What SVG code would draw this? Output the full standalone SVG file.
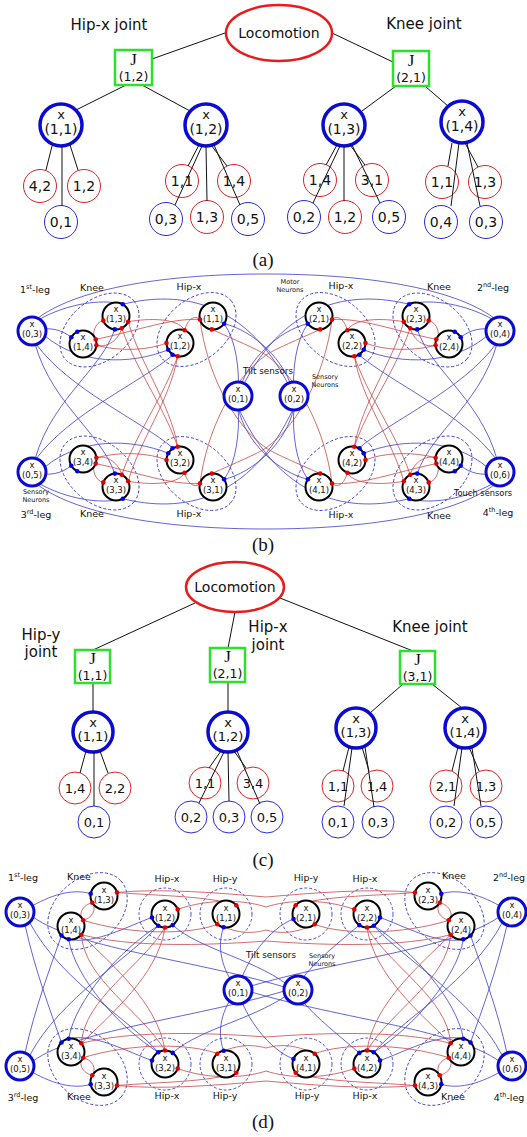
<svg xmlns="http://www.w3.org/2000/svg" width="527" height="1137" viewBox="0 0 527 1137">
<style>
text{font-family:"DejaVu Sans",sans-serif;fill:#111;text-anchor:middle}
.ser{font-family:"Liberation Serif","DejaVu Serif",serif}
.loco{fill:#fff;stroke:#e81c1c;stroke-width:2.5}
.jb{fill:#fff;stroke:#2de02d;stroke-width:2.5}
.bx{fill:#fff;stroke:#0a0ad0;stroke-width:3.5}
.sr{fill:#fff;stroke:#d82424;stroke-width:1}
.sb{fill:#fff;stroke:#2a2ad8;stroke-width:1}
.tl{stroke:#111;stroke-width:1;fill:none}
.sen{fill:#fff;stroke:#0a0ad0;stroke-width:3}
.neu{fill:#fff;stroke:#000;stroke-width:2}
.dsh{fill:none;stroke:#3a3ad0;stroke-width:0.9;stroke-dasharray:3 2}
.bl{fill:none;stroke:#3c3cc8;stroke-width:0.8}
.rd{fill:none;stroke:#c84848;stroke-width:0.8}
.rdt{fill:#e00000}
.bdt{fill:#0000ee}
.nl{font-size:8.5px}
.gl{font-size:9.5px}
.sm{font-size:6.5px}
.t14{font-size:14px}
.t13{font-size:13px}
.t12{font-size:12.5px}
.t15{font-size:15px}
.jj{font-size:17px}
.cap{font-size:19px}
</style>
<defs>
<g id="bq">
<path class="bl" d="M38,318 C80,287 170,274 266,274"/>
<path class="bl" d="M32,331 C50,326 62,330 71.3,337.3"/>
<path class="bl" d="M40,319 C65,305 100,298 122.8,304.3"/>
<path class="bl" d="M122.8,304.3 C180,290 250,300 294,396"/>
<path class="bl" d="M224.1,323.7 C236,340 240,370 238,396"/>
<path class="bl" d="M238,396 C245,360 280,330 307.9,323.7"/>
<path class="bl" d="M32,331 C45,400 100,430 114.8,473.6"/>
<path class="bl" d="M36,344 C70,390 140,420 173.25,448.3"/>
<path class="bl" d="M45,336 C80,365 130,365 168.3,349.75"/>
<path class="rd" d="M103.3,320.6 C95,322 91,335 95.7,339.4"/>
<path class="rd" d="M121.7,328.2 C118,342 105,348 96.4,345.2"/>
<path class="rd" d="M128.2,321.7 C150,318 178,318 184.6,330.3"/>
<path class="rd" d="M95.7,339.4 C140,330 170,318 200,319.5"/>
<path class="rd" d="M96.4,345.2 C120,352 150,350 166.5,343"/>
<path class="rd" d="M184.6,330.3 C188,318 195,315 200,319.5"/>
<path class="rd" d="M121.7,328.2 C140,380 175,420 184.6,472.7"/>
<path class="rd" d="M211.8,329.4 C235,340 255,348 266,355 C300,380 325,430 332,483.5"/>
<path class="rd" d="M177.7,356.3 C170,400 140,440 128.2,481.3"/>
</g>
<g id="dq">
<path class="bl" d="M32,906 C55,893 75,889 90.7,893.7"/>
<path class="bl" d="M25,925 C35,970 50,1010 61.5,1042.5"/>
<path class="bl" d="M30,923 C60,980 130,1020 158.25,1052.3"/>
<path class="bl" d="M68.7,939.3 C95,945 130,925 152,917.5"/>
<path class="bl" d="M158.25,925.7 C120,950 75,1000 68.7,1038.7"/>
<path class="bl" d="M33,917 C80,950 200,960 294,990"/>
<path class="rd" d="M92.3,902.75 C82,905 78,915 83.2,920.3"/>
<path class="rd" d="M92.3,902.75 C97,910 92,918 83.2,920.3"/>
<path class="rd" d="M117,892.5 C160,888 220,893 266,897"/>
<path class="rd" d="M81.3,934.7 C130,947 200,946 266,941"/>
<path class="rd" d="M177.7,909.4 C210,898 245,900 266,907"/>
<path class="rd" d="M117,892.5 C160,896 210,896 236.3,905.3"/>
<path class="rd" d="M83.2,920.3 C130,935 190,935 217.3,924.3"/>
<path class="rd" d="M217.3,924.3 C240,935 255,933 266,930"/>
<path class="rd" d="M165,927.5 C158,975 110,1015 81.3,1043.3"/>
<path class="rd" d="M81.3,934.7 C85,980 140,1010 165,1050.5"/>
</g>
</defs>

<!-- ===== (a) ===== -->
<g id="a-connectors">
<path class="tl" d="M225,33 L152,59 M332,33 L393,62 M126,85 L76,110 M142,85 L190,111 M396,86 L362,111 M426,87 L448,106"/>
</g>
<g id="a-loco"><ellipse class="loco" cx="279" cy="33" rx="53" ry="28"/><text x="279" y="38" class="t14">Locomotion</text></g>
<text x="109" y="30" class="t15">Hip-x joint</text>
<text x="424" y="29" class="t15">Knee joint</text>
<g id="a-J12"><rect class="jb" x="115" y="50" width="37" height="35"/><text x="133.5" y="65" class="ser jj">J</text><text x="133.5" y="81" class="t12">(1,2)</text></g>
<g id="a-J21"><rect class="jb" x="393" y="51" width="36" height="35"/><text x="411" y="66" class="ser jj">J</text><text x="411" y="82" class="t12">(2,1)</text></g>
<g id="a-x11"><circle class="bx" cx="61" cy="125" r="21"/><text x="61" y="119" class="t13">x</text><text x="61" y="134" class="t14">(1,1)</text></g>
<g id="a-x12"><circle class="bx" cx="206" cy="125" r="21"/><text x="206" y="119" class="t13">x</text><text x="206" y="134" class="t14">(1,2)</text></g>
<g id="a-x13"><circle class="bx" cx="344" cy="125" r="21"/><text x="344" y="119" class="t13">x</text><text x="344" y="134" class="t14">(1,3)</text></g>
<g id="a-x14"><circle class="bx" cx="462" cy="122" r="21"/><text x="462" y="116" class="t13">x</text><text x="462" y="131" class="t14">(1,4)</text></g>
<g id="a-c1"><circle class="sr" cx="40" cy="186" r="16.5"/><text x="40" y="191" class="t14">4,2</text></g>
<g id="a-c2"><circle class="sr" cx="84" cy="186" r="16.5"/><text x="84" y="191" class="t14">1,2</text></g>
<g id="a-c3"><circle class="sb" cx="61" cy="222" r="16.5"/><text x="61" y="227" class="t14">0,1</text></g>
<g id="a-c4"><circle class="sr" cx="182" cy="181" r="16.5"/><text x="182" y="186" class="t14">1,1</text></g>
<g id="a-c5"><circle class="sr" cx="234" cy="181" r="16.5"/><text x="234" y="186" class="t14">1,4</text></g>
<g id="a-c6"><circle class="sb" cx="166" cy="219" r="16.5"/><text x="166" y="224" class="t14">0,3</text></g>
<g id="a-c7"><circle class="sr" cx="207" cy="217" r="16.5"/><text x="207" y="222" class="t14">1,3</text></g>
<g id="a-c8"><circle class="sb" cx="248" cy="219" r="16.5"/><text x="248" y="224" class="t14">0,5</text></g>
<g id="a-c9"><circle class="sr" cx="320" cy="180" r="16.5"/><text x="320" y="185" class="t14">1,4</text></g>
<g id="a-c10"><circle class="sr" cx="372" cy="180" r="16.5"/><text x="372" y="185" class="t14">3,1</text></g>
<g id="a-c11"><circle class="sb" cx="304" cy="217" r="16.5"/><text x="304" y="222" class="t14">0,2</text></g>
<g id="a-c12"><circle class="sr" cx="345" cy="217" r="16.5"/><text x="345" y="222" class="t14">1,2</text></g>
<g id="a-c13"><circle class="sb" cx="389" cy="217" r="16.5"/><text x="389" y="222" class="t14">0,5</text></g>
<g id="a-c14"><circle class="sr" cx="442" cy="182" r="16.5"/><text x="442" y="187" class="t14">1,1</text></g>
<g id="a-c15"><circle class="sr" cx="485" cy="182" r="16.5"/><text x="485" y="187" class="t14">1,3</text></g>
<g id="a-c16"><circle class="sb" cx="441" cy="222" r="16.5"/><text x="441" y="227" class="t14">0,4</text></g>
<g id="a-c17"><circle class="sb" cx="486" cy="222" r="16.5"/><text x="486" y="227" class="t14">0,3</text></g>
<g id="a-leaf-connectors">
<path class="tl" d="M52,146 L46,170 M62,146 L62,206 M70,145 L78,170
M199,145 L188,166 M202,146 L175,205 M206,146 L207,201 M211,145 L227,166 M214,145 L240,205
M337,145 L326,165 M340,146 L313,203 M344,146 L344,201 M350,145 L365,165 M352,145 L380,203
M452,143 L448,166 M459,143 L451,206 M465,143 L478,167 M467,143 L480,206"/>
</g>
<text x="263" y="266" class="ser cap">(a)</text>

<!-- ===== (b) ===== -->
<g id="b-groups">
<ellipse class="dsh" cx="99.5" cy="330" rx="45" ry="30" transform="rotate(-40 99.5 330)"/>
<ellipse class="dsh" cx="196.5" cy="329.5" rx="45" ry="30" transform="rotate(-40 196.5 329.5)"/>
<ellipse class="dsh" cx="335.5" cy="329.5" rx="45" ry="30" transform="rotate(40 335.5 329.5)"/>
<ellipse class="dsh" cx="432.5" cy="330" rx="45" ry="30" transform="rotate(40 432.5 330)"/>
<ellipse class="dsh" cx="99.5" cy="473" rx="45" ry="30" transform="rotate(40 99.5 473)"/>
<ellipse class="dsh" cx="196.5" cy="473.5" rx="45" ry="30" transform="rotate(40 196.5 473.5)"/>
<ellipse class="dsh" cx="335.5" cy="473.5" rx="45" ry="30" transform="rotate(-40 335.5 473.5)"/>
<ellipse class="dsh" cx="432.5" cy="473" rx="45" ry="30" transform="rotate(-40 432.5 473)"/>
</g>
<g id="b-connectors">
<use href="#bq"/>
<use href="#bq" transform="matrix(-1 0 0 1 532 0)"/>
<use href="#bq" transform="matrix(1 0 0 -1 0 803)"/>
<use href="#bq" transform="matrix(-1 0 0 -1 532 803)"/>
</g>
<g id="b-S03"><circle class="sen" cx="32" cy="331" r="14"/><text x="32" y="327" class="nl">x</text><text x="32" y="337" class="nl">(0,3)</text></g>
<g id="b-S04"><circle class="sen" cx="500" cy="331" r="14"/><text x="500" y="327" class="nl">x</text><text x="500" y="337" class="nl">(0,4)</text></g>
<g id="b-S05"><circle class="sen" cx="32" cy="472" r="14"/><text x="32" y="468" class="nl">x</text><text x="32" y="478" class="nl">(0,5)</text></g>
<g id="b-S06"><circle class="sen" cx="500" cy="472" r="14"/><text x="500" y="468" class="nl">x</text><text x="500" y="478" class="nl">(0,6)</text></g>
<g id="b-S01"><circle class="sen" cx="238" cy="396" r="14"/><text x="238" y="392" class="nl">x</text><text x="238" y="402" class="nl">(0,1)</text></g>
<g id="b-S02"><circle class="sen" cx="294" cy="396" r="14"/><text x="294" y="392" class="nl">x</text><text x="294" y="402" class="nl">(0,2)</text></g>

<g id="b-N13"><circle class="neu" cx="116" cy="316" r="13.5"/><text x="116" y="312" class="nl">x</text><text x="116" y="322" class="nl">(1,3)</text>
<circle class="bdt" cx="122.8" cy="304.3" r="2.3"/><circle class="bdt" cx="114.8" cy="329.4" r="2.3"/><circle class="rdt" cx="103.3" cy="320.6" r="2.3"/><circle class="rdt" cx="121.7" cy="328.2" r="2.3"/><circle class="rdt" cx="128.2" cy="321.7" r="2.3"/></g>
<g id="b-N14"><circle class="neu" cx="83" cy="344" r="13.5"/><text x="83" y="340" class="nl">x</text><text x="83" y="350" class="nl">(1,4)</text>
<circle class="bdt" cx="71.3" cy="337.3" r="2.3"/><circle class="bdt" cx="77.3" cy="331.8" r="2.3"/><circle class="rdt" cx="95.7" cy="339.4" r="2.3"/><circle class="rdt" cx="96.4" cy="345.2" r="2.3"/></g>
<g id="b-N12"><circle class="neu" cx="180" cy="343" r="13.5"/><text x="180" y="339" class="nl">x</text><text x="180" y="349" class="nl">(1,2)</text>
<circle class="rdt" cx="166.5" cy="343" r="2.3"/><circle class="rdt" cx="184.6" cy="330.3" r="2.3"/><circle class="rdt" cx="177.7" cy="356.3" r="2.3"/><circle class="bdt" cx="168.3" cy="349.75" r="2.3"/><circle class="bdt" cx="172.5" cy="354.7" r="2.3"/></g>
<g id="b-N11"><circle class="neu" cx="213" cy="316" r="13.5"/><text x="213" y="312" class="nl">x</text><text x="213" y="322" class="nl">(1,1)</text>
<circle class="rdt" cx="200" cy="319.5" r="2.3"/><circle class="rdt" cx="211.8" cy="329.4" r="2.3"/><circle class="bdt" cx="224.1" cy="323.7" r="2.3"/></g>

<g id="b-N23"><circle class="neu" cx="416" cy="316" r="13.5"/><text x="416" y="312" class="nl">x</text><text x="416" y="322" class="nl">(2,3)</text>
<circle class="bdt" cx="409.2" cy="304.3" r="2.3"/><circle class="bdt" cx="417.2" cy="329.4" r="2.3"/><circle class="rdt" cx="428.7" cy="320.6" r="2.3"/><circle class="rdt" cx="410.3" cy="328.2" r="2.3"/><circle class="rdt" cx="403.8" cy="321.7" r="2.3"/></g>
<g id="b-N24"><circle class="neu" cx="449" cy="344" r="13.5"/><text x="449" y="340" class="nl">x</text><text x="449" y="350" class="nl">(2,4)</text>
<circle class="bdt" cx="460.7" cy="337.3" r="2.3"/><circle class="bdt" cx="454.7" cy="331.8" r="2.3"/><circle class="rdt" cx="436.3" cy="339.4" r="2.3"/><circle class="rdt" cx="435.6" cy="345.2" r="2.3"/></g>
<g id="b-N22"><circle class="neu" cx="352" cy="343" r="13.5"/><text x="352" y="339" class="nl">x</text><text x="352" y="349" class="nl">(2,2)</text>
<circle class="rdt" cx="365.5" cy="343" r="2.3"/><circle class="rdt" cx="347.4" cy="330.3" r="2.3"/><circle class="rdt" cx="354.3" cy="356.3" r="2.3"/><circle class="bdt" cx="363.7" cy="349.75" r="2.3"/><circle class="bdt" cx="359.5" cy="354.7" r="2.3"/></g>
<g id="b-N21"><circle class="neu" cx="319" cy="316" r="13.5"/><text x="319" y="312" class="nl">x</text><text x="319" y="322" class="nl">(2,1)</text>
<circle class="rdt" cx="332" cy="319.5" r="2.3"/><circle class="rdt" cx="320.2" cy="329.4" r="2.3"/><circle class="bdt" cx="307.9" cy="323.7" r="2.3"/></g>

<g id="b-N33"><circle class="neu" cx="116" cy="487" r="13.5"/><text x="116" y="483" class="nl">x</text><text x="116" y="493" class="nl">(3,3)</text>
<circle class="bdt" cx="122.8" cy="498.7" r="2.3"/><circle class="bdt" cx="114.8" cy="473.6" r="2.3"/><circle class="rdt" cx="103.3" cy="482.4" r="2.3"/><circle class="rdt" cx="121.7" cy="474.8" r="2.3"/><circle class="rdt" cx="128.2" cy="481.3" r="2.3"/></g>
<g id="b-N34"><circle class="neu" cx="83" cy="459" r="13.5"/><text x="83" y="455" class="nl">x</text><text x="83" y="465" class="nl">(3,4)</text>
<circle class="bdt" cx="71.3" cy="465.7" r="2.3"/><circle class="bdt" cx="77.3" cy="471.2" r="2.3"/><circle class="rdt" cx="95.7" cy="463.6" r="2.3"/><circle class="rdt" cx="96.4" cy="457.8" r="2.3"/></g>
<g id="b-N32"><circle class="neu" cx="180" cy="460" r="13.5"/><text x="180" y="456" class="nl">x</text><text x="180" y="466" class="nl">(3,2)</text>
<circle class="rdt" cx="166.5" cy="460" r="2.3"/><circle class="rdt" cx="184.6" cy="472.7" r="2.3"/><circle class="rdt" cx="177.7" cy="446.7" r="2.3"/><circle class="bdt" cx="168.3" cy="453.25" r="2.3"/><circle class="bdt" cx="172.5" cy="448.3" r="2.3"/></g>
<g id="b-N31"><circle class="neu" cx="213" cy="487" r="13.5"/><text x="213" y="483" class="nl">x</text><text x="213" y="493" class="nl">(3,1)</text>
<circle class="rdt" cx="200" cy="483.5" r="2.3"/><circle class="rdt" cx="211.8" cy="473.6" r="2.3"/><circle class="bdt" cx="224.1" cy="479.3" r="2.3"/></g>

<g id="b-N43"><circle class="neu" cx="416" cy="487" r="13.5"/><text x="416" y="483" class="nl">x</text><text x="416" y="493" class="nl">(4,3)</text>
<circle class="bdt" cx="409.2" cy="498.7" r="2.3"/><circle class="bdt" cx="417.2" cy="473.6" r="2.3"/><circle class="rdt" cx="428.7" cy="482.4" r="2.3"/><circle class="rdt" cx="410.3" cy="474.8" r="2.3"/><circle class="rdt" cx="403.8" cy="481.3" r="2.3"/></g>
<g id="b-N44"><circle class="neu" cx="449" cy="459" r="13.5"/><text x="449" y="455" class="nl">x</text><text x="449" y="465" class="nl">(4,4)</text>
<circle class="bdt" cx="460.7" cy="465.7" r="2.3"/><circle class="bdt" cx="454.7" cy="471.2" r="2.3"/><circle class="rdt" cx="436.3" cy="463.6" r="2.3"/><circle class="rdt" cx="435.6" cy="457.8" r="2.3"/></g>
<g id="b-N42"><circle class="neu" cx="352" cy="460" r="13.5"/><text x="352" y="456" class="nl">x</text><text x="352" y="466" class="nl">(4,2)</text>
<circle class="rdt" cx="365.5" cy="460" r="2.3"/><circle class="rdt" cx="347.4" cy="472.7" r="2.3"/><circle class="rdt" cx="354.3" cy="446.7" r="2.3"/><circle class="bdt" cx="363.7" cy="453.25" r="2.3"/><circle class="bdt" cx="359.5" cy="448.3" r="2.3"/></g>
<g id="b-N41"><circle class="neu" cx="319" cy="487" r="13.5"/><text x="319" y="483" class="nl">x</text><text x="319" y="493" class="nl">(4,1)</text>
<circle class="rdt" cx="332" cy="483.5" r="2.3"/><circle class="rdt" cx="320.2" cy="473.6" r="2.3"/><circle class="bdt" cx="307.9" cy="479.3" r="2.3"/></g>

<g id="b-labels">
<text x="35" y="293" class="gl">1<tspan font-size="6.5" dy="-4">st</tspan><tspan dy="4">-leg</tspan></text>
<text x="92" y="291" class="gl">Knee</text>
<text x="189" y="290" class="gl">Hip-x</text>
<text x="290" y="284" class="sm">Motor</text>
<text x="290" y="292" class="sm">Neurons</text>
<text x="341" y="289" class="gl">Hip-x</text>
<text x="439" y="290" class="gl">Knee</text>
<text x="493" y="291" class="gl">2<tspan font-size="6.5" dy="-4">nd</tspan><tspan dy="4">-leg</tspan></text>
<text x="268" y="374" font-size="8.8">Tilt sensors</text>
<text x="325" y="379" class="sm">Sensory</text>
<text x="325" y="387" class="sm">Neurons</text>
<text x="36" y="494" class="sm">Sensory</text>
<text x="36" y="502" class="sm">Neurons</text>
<text x="36" y="518" class="gl">3<tspan font-size="6.5" dy="-4">rd</tspan><tspan dy="4">-leg</tspan></text>
<text x="92" y="517" class="gl">Knee</text>
<text x="189" y="517" class="gl">Hip-x</text>
<text x="341" y="518" class="gl">Hip-x</text>
<text x="439" y="519" class="gl">Knee</text>
<text x="483" y="496" font-size="8.3">Touch sensors</text>
<text x="498" y="516" class="gl">4<tspan font-size="6.5" dy="-4">th</tspan><tspan dy="4">-leg</tspan></text>
</g>
<text x="263" y="551" class="ser cap">(b)</text>

<!-- ===== (c) ===== -->
<g id="c-connectors">
<path class="tl" d="M195,603 L93,650 M235,612 L228,648 M280,598 L413,651 M93,683 L93,712 M228,682 L228,712 M403,684 L370,713 M432,684 L462,708"/>
</g>
<g id="c-loco"><ellipse class="loco" cx="235" cy="587" rx="49" ry="25"/><text x="235" y="592" class="t14">Locomotion</text></g>
<text x="41" y="640" class="t15">Hip-y</text>
<text x="41" y="657" class="t15">joint</text>
<text x="268" y="632" class="t15">Hip-x</text>
<text x="268" y="650" class="t15">joint</text>
<text x="430" y="632" class="t15">Knee joint</text>
<g id="c-J11"><rect class="jb" x="75" y="650" width="35" height="33"/><text x="92.5" y="664" class="ser jj">J</text><text x="92.5" y="680" class="t12">(1,1)</text></g>
<g id="c-J21"><rect class="jb" x="210" y="648" width="35" height="34"/><text x="227.5" y="662" class="ser jj">J</text><text x="227.5" y="678" class="t12">(2,1)</text></g>
<g id="c-J31"><rect class="jb" x="400" y="651" width="35" height="33"/><text x="417.5" y="665" class="ser jj">J</text><text x="417.5" y="681" class="t12">(3,1)</text></g>
<g id="c-x11"><circle class="bx" cx="93" cy="732" r="20"/><text x="93" y="727" class="t13">x</text><text x="93" y="741" class="t13">(1,1)</text></g>
<g id="c-x12"><circle class="bx" cx="228" cy="732" r="20"/><text x="228" y="727" class="t13">x</text><text x="228" y="741" class="t13">(1,2)</text></g>
<g id="c-x13"><circle class="bx" cx="356" cy="728" r="20"/><text x="356" y="723" class="t13">x</text><text x="356" y="737" class="t13">(1,3)</text></g>
<g id="c-x14"><circle class="bx" cx="465" cy="728" r="20"/><text x="465" y="723" class="t13">x</text><text x="465" y="737" class="t13">(1,4)</text></g>
<g id="c-c1"><circle class="sr" cx="75" cy="788" r="16"/><text x="75" y="793" class="t13">1,4</text></g>
<g id="c-c2"><circle class="sr" cx="115" cy="788" r="16"/><text x="115" y="793" class="t13">2,2</text></g>
<g id="c-c3"><circle class="sb" cx="94" cy="822" r="16"/><text x="94" y="827" class="t13">0,1</text></g>
<g id="c-c4"><circle class="sr" cx="205" cy="783" r="16"/><text x="205" y="788" class="t13">1,1</text></g>
<g id="c-c5"><circle class="sr" cx="253" cy="783" r="16"/><text x="253" y="788" class="t13">3,4</text></g>
<g id="c-c6"><circle class="sb" cx="191" cy="817" r="16"/><text x="191" y="822" class="t13">0,2</text></g>
<g id="c-c7"><circle class="sb" cx="229" cy="817" r="16"/><text x="229" y="822" class="t13">0,3</text></g>
<g id="c-c8"><circle class="sb" cx="267" cy="817" r="16"/><text x="267" y="822" class="t13">0,5</text></g>
<g id="c-c9"><circle class="sr" cx="338" cy="786" r="16"/><text x="338" y="791" class="t13">1,1</text></g>
<g id="c-c10"><circle class="sr" cx="377" cy="786" r="16"/><text x="377" y="791" class="t13">1,4</text></g>
<g id="c-c11"><circle class="sb" cx="338" cy="822" r="16"/><text x="338" y="827" class="t13">0,1</text></g>
<g id="c-c12"><circle class="sb" cx="378" cy="822" r="16"/><text x="378" y="827" class="t13">0,3</text></g>
<g id="c-c13"><circle class="sr" cx="446" cy="786" r="16"/><text x="446" y="791" class="t13">2,1</text></g>
<g id="c-c14"><circle class="sr" cx="486" cy="786" r="16"/><text x="486" y="791" class="t13">1,3</text></g>
<g id="c-c15"><circle class="sb" cx="446" cy="822" r="16"/><text x="446" y="827" class="t13">0,2</text></g>
<g id="c-c16"><circle class="sb" cx="486" cy="822" r="16"/><text x="486" y="827" class="t13">0,5</text></g>
<g id="c-leaf-connectors">
<path class="tl" d="M86,751 L80,773 M94,752 L94,806 M100,751 L108,773
M221,751 L209,768 M224,752 L199,803 M228,752 L229,801 M234,751 L246,768 M237,751 L260,804
M349,747 L343,771 M352,748 L344,806 M362,747 L369,771 M365,747 L374,807
M458,747 L452,771 M462,748 L454,806 M469,747 L479,771 M472,748 L481,806"/>
</g>
<text x="263" y="866" class="ser cap">(c)</text>

<!-- ===== (d) ===== -->
<g id="d-groups">
<ellipse class="dsh" cx="87.5" cy="911" rx="45" ry="32" transform="rotate(-42 87.5 911)"/>
<ellipse class="dsh" cx="444.5" cy="911" rx="45" ry="32" transform="rotate(42 444.5 911)"/>
<ellipse class="dsh" cx="87.5" cy="1067" rx="45" ry="32" transform="rotate(42 87.5 1067)"/>
<ellipse class="dsh" cx="444.5" cy="1067" rx="45" ry="32" transform="rotate(-42 444.5 1067)"/>
<circle class="dsh" cx="165" cy="914" r="26"/>
<circle class="dsh" cx="226" cy="914" r="26"/>
<circle class="dsh" cx="306" cy="914" r="26"/>
<circle class="dsh" cx="367" cy="914" r="26"/>
<circle class="dsh" cx="165" cy="1064" r="26"/>
<circle class="dsh" cx="226" cy="1064" r="26"/>
<circle class="dsh" cx="306" cy="1064" r="26"/>
<circle class="dsh" cx="367" cy="1064" r="26"/>
</g>
<g id="d-connectors">
<use href="#dq"/>
<use href="#dq" transform="matrix(-1 0 0 1 532 0)"/>
<use href="#dq" transform="matrix(1 0 0 -1 0 1978)"/>
<use href="#dq" transform="matrix(-1 0 0 -1 532 1978)"/>
<path class="bl" d="M223.7,927.3 C215,950 225,975 238,990"/>
<path class="bl" d="M238,990 C245,960 270,928 293.5,919"/>
<path class="bl" d="M172.7,925.1 C200,950 260,960 294,990"/>
<path class="bl" d="M359.3,925.1 C330,950 310,965 294,990"/>
<path class="bl" d="M223.7,1050.7 C215,1028 225,1003 238,990"/>
<path class="bl" d="M238,990 C245,1018 270,1050 293.5,1059"/>
<path class="bl" d="M172.7,1052.9 C200,1028 260,1018 294,990"/>
<path class="bl" d="M359.3,1052.9 C330,1028 310,1013 294,990"/>
</g>
<g id="d-S03"><circle class="sen" cx="20" cy="912" r="14"/><text x="20" y="908" class="nl">x</text><text x="20" y="918" class="nl">(0,3)</text></g>
<g id="d-S04"><circle class="sen" cx="512" cy="912" r="14"/><text x="512" y="908" class="nl">x</text><text x="512" y="918" class="nl">(0,4)</text></g>
<g id="d-S05"><circle class="sen" cx="20" cy="1066" r="14"/><text x="20" y="1062" class="nl">x</text><text x="20" y="1072" class="nl">(0,5)</text></g>
<g id="d-S06"><circle class="sen" cx="512" cy="1066" r="14"/><text x="512" y="1062" class="nl">x</text><text x="512" y="1072" class="nl">(0,6)</text></g>
<g id="d-S01"><circle class="sen" cx="238" cy="990" r="14"/><text x="238" y="986" class="nl">x</text><text x="238" y="996" class="nl">(0,1)</text></g>
<g id="d-S02"><circle class="sen" cx="298" cy="990" r="14"/><text x="298" y="986" class="nl">x</text><text x="298" y="996" class="nl">(0,2)</text></g>

<g id="d-N13"><circle class="neu" cx="104" cy="896" r="13.5"/><text x="104" y="893" class="nl">x</text><text x="104" y="903" class="nl">(1,3)</text>
<circle class="bdt" cx="90.7" cy="893.7" r="2.3"/><circle class="rdt" cx="117" cy="892.5" r="2.3"/><circle class="rdt" cx="92.3" cy="902.75" r="2.3"/></g>
<g id="d-N14"><circle class="neu" cx="71" cy="926" r="13.5"/><text x="71" y="923" class="nl">x</text><text x="71" y="933" class="nl">(1,4)</text>
<circle class="rdt" cx="83.2" cy="920.3" r="2.3"/><circle class="rdt" cx="81.3" cy="934.7" r="2.3"/><circle class="bdt" cx="61.5" cy="935.5" r="2.3"/><circle class="bdt" cx="68.7" cy="939.3" r="2.3"/></g>
<g id="d-N12"><circle class="neu" cx="165" cy="914" r="13.5"/><text x="165" y="911" class="nl">x</text><text x="165" y="921" class="nl">(1,2)</text>
<circle class="rdt" cx="177.7" cy="909.4" r="2.3"/><circle class="rdt" cx="165" cy="927.5" r="2.3"/><circle class="bdt" cx="152" cy="917.5" r="2.3"/><circle class="bdt" cx="158.25" cy="925.7" r="2.3"/><circle class="bdt" cx="172.7" cy="925.1" r="2.3"/></g>
<g id="d-N11"><circle class="neu" cx="226" cy="914" r="13.5"/><text x="226" y="911" class="nl">x</text><text x="226" y="921" class="nl">(1,1)</text>
<circle class="rdt" cx="236.3" cy="905.3" r="2.3"/><circle class="rdt" cx="217.3" cy="924.3" r="2.3"/><circle class="bdt" cx="223.7" cy="927.3" r="2.3"/></g>
<g id="d-N21"><circle class="neu" cx="306" cy="914" r="13.5"/><text x="306" y="911" class="nl">x</text><text x="306" y="921" class="nl">(2,1)</text>
<circle class="rdt" cx="295.7" cy="905.3" r="2.3"/><circle class="rdt" cx="314.7" cy="924.3" r="2.3"/><circle class="bdt" cx="293.5" cy="919" r="2.3"/></g>
<g id="d-N22"><circle class="neu" cx="367" cy="914" r="13.5"/><text x="367" y="911" class="nl">x</text><text x="367" y="921" class="nl">(2,2)</text>
<circle class="rdt" cx="354.3" cy="909.4" r="2.3"/><circle class="rdt" cx="367" cy="927.5" r="2.3"/><circle class="bdt" cx="380" cy="917.5" r="2.3"/><circle class="bdt" cx="373.75" cy="925.7" r="2.3"/><circle class="bdt" cx="359.3" cy="925.1" r="2.3"/></g>
<g id="d-N23"><circle class="neu" cx="428" cy="896" r="13.5"/><text x="428" y="893" class="nl">x</text><text x="428" y="903" class="nl">(2,3)</text>
<circle class="bdt" cx="441.3" cy="893.7" r="2.3"/><circle class="rdt" cx="415" cy="892.5" r="2.3"/><circle class="rdt" cx="439.7" cy="902.75" r="2.3"/></g>
<g id="d-N24"><circle class="neu" cx="461" cy="926" r="13.5"/><text x="461" y="923" class="nl">x</text><text x="461" y="933" class="nl">(2,4)</text>
<circle class="rdt" cx="448.8" cy="920.3" r="2.3"/><circle class="rdt" cx="450.7" cy="934.7" r="2.3"/><circle class="bdt" cx="470.5" cy="935.5" r="2.3"/><circle class="bdt" cx="463.3" cy="939.3" r="2.3"/></g>

<g id="d-N33"><circle class="neu" cx="104" cy="1082" r="13.5"/><text x="104" y="1079" class="nl">x</text><text x="104" y="1089" class="nl">(3,3)</text>
<circle class="bdt" cx="90.7" cy="1084.3" r="2.3"/><circle class="rdt" cx="117" cy="1085.5" r="2.3"/><circle class="rdt" cx="92.3" cy="1075.25" r="2.3"/></g>
<g id="d-N34"><circle class="neu" cx="71" cy="1052" r="13.5"/><text x="71" y="1049" class="nl">x</text><text x="71" y="1059" class="nl">(3,4)</text>
<circle class="rdt" cx="83.2" cy="1057.7" r="2.3"/><circle class="rdt" cx="81.3" cy="1043.3" r="2.3"/><circle class="bdt" cx="61.5" cy="1042.5" r="2.3"/><circle class="bdt" cx="68.7" cy="1038.7" r="2.3"/></g>
<g id="d-N32"><circle class="neu" cx="165" cy="1064" r="13.5"/><text x="165" y="1061" class="nl">x</text><text x="165" y="1071" class="nl">(3,2)</text>
<circle class="rdt" cx="177.7" cy="1068.6" r="2.3"/><circle class="rdt" cx="165" cy="1050.5" r="2.3"/><circle class="bdt" cx="152" cy="1060.5" r="2.3"/><circle class="bdt" cx="158.25" cy="1052.3" r="2.3"/><circle class="bdt" cx="172.7" cy="1052.9" r="2.3"/></g>
<g id="d-N31"><circle class="neu" cx="226" cy="1064" r="13.5"/><text x="226" y="1061" class="nl">x</text><text x="226" y="1071" class="nl">(3,1)</text>
<circle class="rdt" cx="236.3" cy="1072.7" r="2.3"/><circle class="rdt" cx="217.3" cy="1053.7" r="2.3"/><circle class="bdt" cx="223.7" cy="1050.7" r="2.3"/></g>
<g id="d-N41"><circle class="neu" cx="306" cy="1064" r="13.5"/><text x="306" y="1061" class="nl">x</text><text x="306" y="1071" class="nl">(4,1)</text>
<circle class="rdt" cx="295.7" cy="1072.7" r="2.3"/><circle class="rdt" cx="314.7" cy="1053.7" r="2.3"/><circle class="bdt" cx="293.5" cy="1059" r="2.3"/></g>
<g id="d-N42"><circle class="neu" cx="367" cy="1064" r="13.5"/><text x="367" y="1061" class="nl">x</text><text x="367" y="1071" class="nl">(4,2)</text>
<circle class="rdt" cx="354.3" cy="1068.6" r="2.3"/><circle class="rdt" cx="367" cy="1050.5" r="2.3"/><circle class="bdt" cx="380" cy="1060.5" r="2.3"/><circle class="bdt" cx="373.75" cy="1052.3" r="2.3"/><circle class="bdt" cx="359.3" cy="1052.9" r="2.3"/></g>
<g id="d-N43"><circle class="neu" cx="428" cy="1082" r="13.5"/><text x="428" y="1079" class="nl">x</text><text x="428" y="1089" class="nl">(4,3)</text>
<circle class="bdt" cx="441.3" cy="1084.3" r="2.3"/><circle class="rdt" cx="415" cy="1085.5" r="2.3"/><circle class="rdt" cx="439.7" cy="1075.25" r="2.3"/></g>
<g id="d-N44"><circle class="neu" cx="461" cy="1052" r="13.5"/><text x="461" y="1049" class="nl">x</text><text x="461" y="1059" class="nl">(4,4)</text>
<circle class="rdt" cx="448.8" cy="1057.7" r="2.3"/><circle class="rdt" cx="450.7" cy="1043.3" r="2.3"/><circle class="bdt" cx="470.5" cy="1042.5" r="2.3"/><circle class="bdt" cx="463.3" cy="1038.7" r="2.3"/></g>

<g id="d-labels">
<text x="23" y="881" class="gl">1<tspan font-size="6.5" dy="-4">st</tspan><tspan dy="4">-leg</tspan></text>
<text x="79" y="880" class="gl">Knee</text>
<text x="167" y="882" class="gl">Hip-x</text>
<text x="225" y="882" class="gl">Hip-y</text>
<text x="306" y="881" class="gl">Hip-y</text>
<text x="365" y="882" class="gl">Hip-x</text>
<text x="454" y="879" class="gl">Knee</text>
<text x="509" y="881" class="gl">2<tspan font-size="6.5" dy="-4">nd</tspan><tspan dy="4">-leg</tspan></text>
<text x="271" y="958" font-size="8.8">Tilt sensors</text>
<text x="322" y="958" class="sm">Sensory</text>
<text x="322" y="966" class="sm">Neurons</text>
<text x="23" y="1101" class="gl">3<tspan font-size="6.5" dy="-4">rd</tspan><tspan dy="4">-leg</tspan></text>
<text x="79" y="1100" class="gl">Knee</text>
<text x="167" y="1099" class="gl">Hip-x</text>
<text x="225" y="1099" class="gl">Hip-y</text>
<text x="307" y="1099" class="gl">Hip-y</text>
<text x="365" y="1099" class="gl">Hip-x</text>
<text x="453" y="1100" class="gl">Knee</text>
<text x="509" y="1101" class="gl">4<tspan font-size="6.5" dy="-4">th</tspan><tspan dy="4">-leg</tspan></text>
</g>
<text x="263" y="1128" class="ser cap">(d)</text>
</svg>
